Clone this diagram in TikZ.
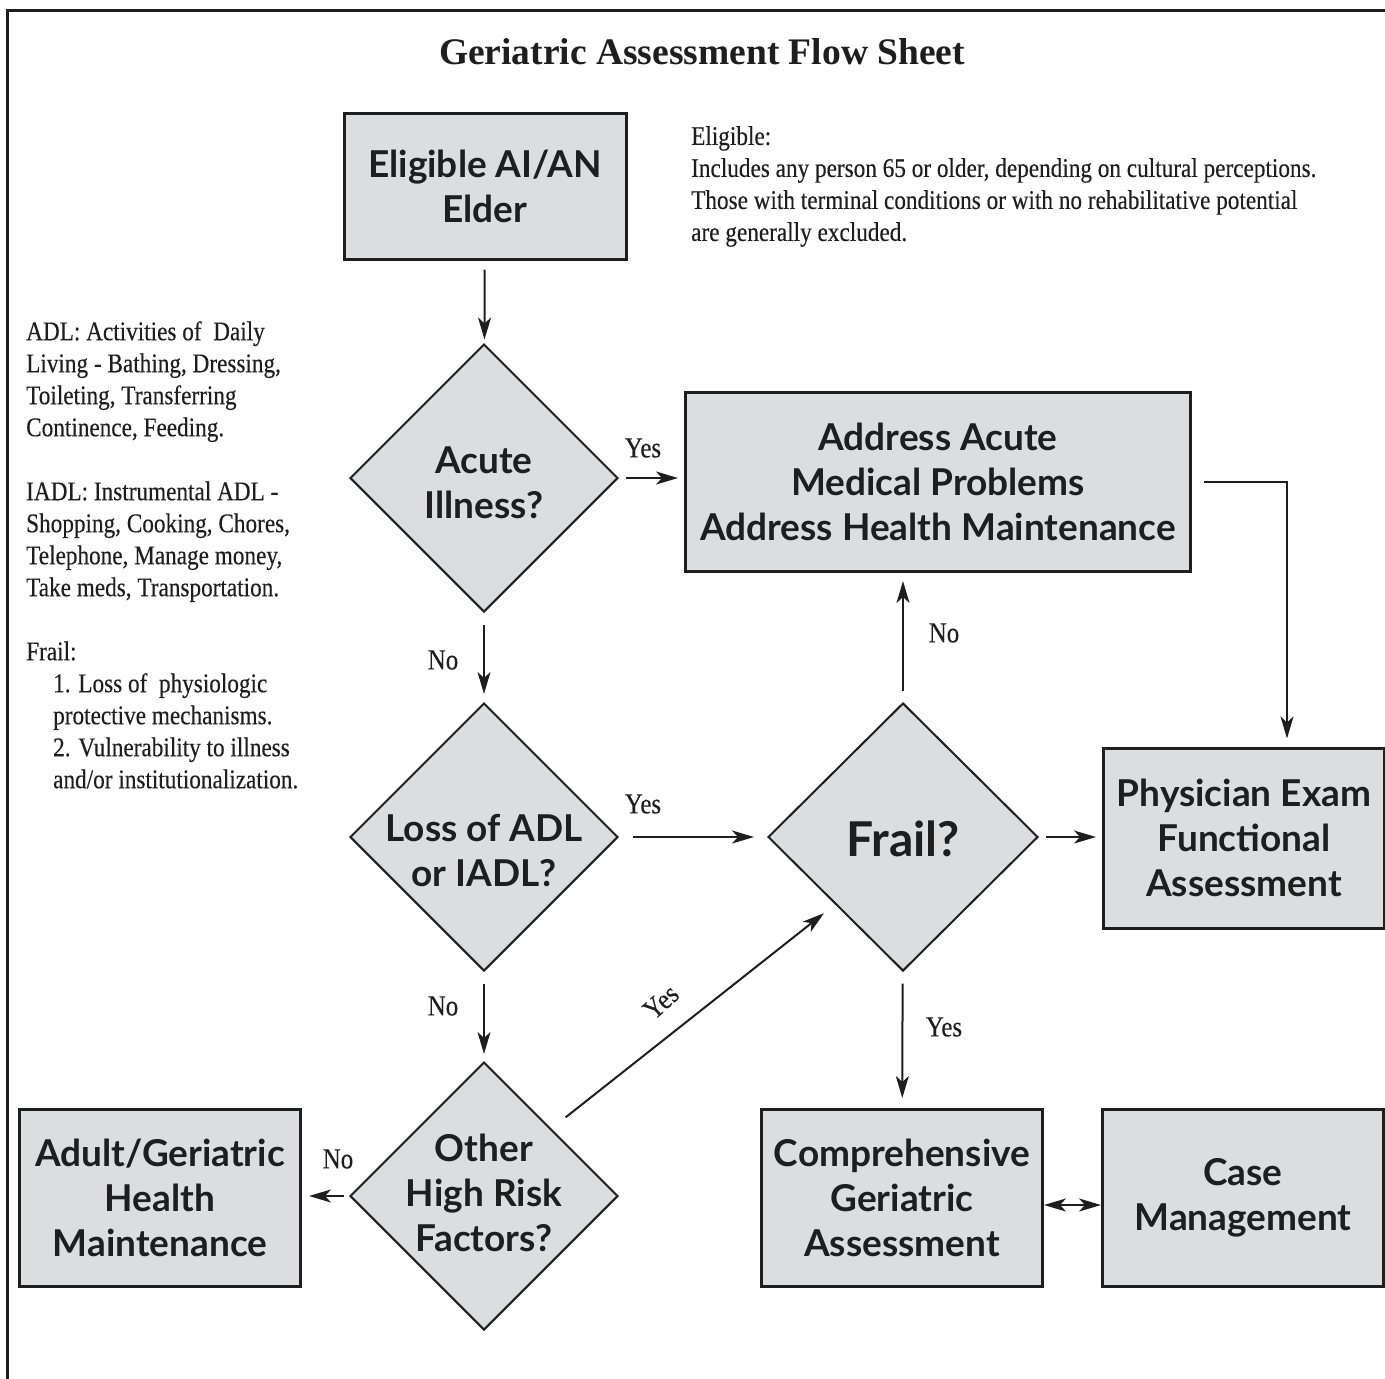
\documentclass[tikz,border=0pt]{standalone}
\usepackage{fontspec}
\usetikzlibrary{shapes.geometric,arrows.meta}
\newfontfamily\notefont[FakeStretch=0.86,FakeBold=0.3]{Liberation Serif}
\newfontfamily\titlefont{Liberation Serif}
\newfontfamily\boxfont{Lato}
\definecolor{boxgray}{HTML}{DCDDDF}
\definecolor{inkdark}{HTML}{1E1E1E}
\newcommand{\dtext}[2][-15pt]{\smash{\makebox[0pt]{\raisebox{#1}{\begin{tabular}{@{}c@{}}#2\end{tabular}}}}}
\tikzset{
  flowtip/.tip={Stealth[length=22pt,width=13pt,inset=6pt]},
  stepbox/.style={draw=inkdark, line width=3pt, fill=boxgray, text=inkdark, inner sep=0pt,
    align=center, font=\boxfont\bfseries\fontsize{37}{45}\selectfont},
  decision/.style={diamond, draw=inkdark, line width=2pt, fill=boxgray, text=inkdark, inner sep=0pt,
    minimum width=268pt, minimum height=268pt, font=\boxfont\bfseries\fontsize{37}{45}\selectfont},
  arrow/.style={draw=inkdark, line width=2pt, -flowtip},
  dblarrow/.style={draw=inkdark, line width=2pt, flowtip-flowtip},
  answer/.style={text=inkdark, font=\notefont\fontsize{29}{32}\selectfont, inner sep=0pt},
  note/.style={text=inkdark, font=\notefont\fontsize{27}{32}\selectfont, inner sep=0pt, align=left, anchor=north west}
}
\begin{document}
\begin{tikzpicture}[x=1pt,y=-1pt]
    \useasboundingbox (0,0) rectangle (1385,1379);
    % Frame
    \draw[inkdark, line width=3pt] (7,1385) -- (7,10) -- (1390,10);

    % Title
    \node[text=inkdark, font=\titlefont\bfseries\fontsize{37.5}{40}\selectfont] (title) at (702,52) {Geriatric Assessment Flow Sheet};

    % Notes
    \node[note] (eligiblenote) at (691,126) {Eligible:\\
        Includes any person 65 or older, depending on cultural perceptions.\\
        Those with terminal conditions or with no rehabilitative potential\\
        are generally excluded.};
    \node[note] (glossary) at (26,321) {ADL: Activities of \ Daily\\
        Living - Bathing, Dressing,\\
        Toileting, Transferring\\
        Continence, Feeding.\\[32pt]
        IADL: Instrumental ADL -\\
        Shopping, Cooking, Chores,\\
        Telephone, Manage money,\\
        Take meds, Transportation.\\[32pt]
        Frail:\\
        \hspace*{27pt}1. Loss of \ physiologic\\
        \hspace*{27pt}protective mechanisms.\\
        \hspace*{27pt}2. Vulnerability to illness\\
        \hspace*{27pt}and/or institutionalization.};

    % Boxes
    \node[stepbox, minimum width=282pt, minimum height=146pt] (eligible) at (485,186) {Eligible AI/AN\\Elder};
    \node[stepbox, minimum width=505pt, minimum height=179pt] (address) at (938,482) {Address Acute\\Medical Problems\\Address Health Maintenance};
    \node[stepbox, minimum width=281pt, minimum height=180pt] (exam) at (1244,838) {Physician Exam\\Functional\\Assessment};
    \node[stepbox, minimum width=281pt, minimum height=177pt] (maint) at (160,1198) {Adult/Geriatric\\Health\\Maintenance};
    \node[stepbox, minimum width=281pt, minimum height=177pt] (cga) at (902,1198) {Comprehensive\\Geriatric\\Assessment};
    \node[stepbox, minimum width=281pt, minimum height=177pt] (casemgmt) at (1243,1198) {Case\\Management};

    % Decisions
    \node[decision] (acute) at (484,478) {\dtext{Acute\\Illness?}};
    \node[decision] (adl) at (484,837) {\dtext[-24pt]{Loss of ADL\\or IADL?}};
    \node[decision, minimum width=270pt] (frail) at (903,837) {\dtext{\fontsize{48}{50}\selectfont Frail?}};
    \node[decision] (risk) at (484,1196) {\dtext[-8pt]{Other\\High Risk\\Factors?}};

    % Connectors
    \draw[arrow, shorten <=9pt, shorten >=4pt] (eligible) -- (acute);
    \draw[arrow, shorten <=7pt, shorten >=6pt] (acute) -- (address.west |- acute);
    \draw[arrow, shorten <=12pt, shorten >=8pt] (acute) -- (adl);
    \draw[arrow, shorten <=14pt, shorten >=13pt] (adl) -- (frail);
    \draw[arrow, shorten <=12pt, shorten >=7pt] (adl) -- (risk);
    \draw[arrow, shorten <=5pt, shorten >=7pt] (risk) -- (maint.east |- risk);
    \draw[arrow, shorten <=18pt, shorten >=14pt] (risk.north east) -- (frail.south west);
    \draw[arrow, shorten <=11pt, shorten >=8pt] (frail) -- (frail |- address.south);
    \draw[arrow, shorten <=7pt, shorten >=6pt] (frail) -- (exam.west |- frail);
    \draw[arrow, shorten <=12pt, shorten >=10pt] (frail) -- (cga);
    \draw[arrow, shorten <=12pt, shorten >=8pt] (address.east) -| ([xshift=43pt]exam.north);
    \draw[dblarrow] ([yshift=-7pt]cga.east) -- ([yshift=-7pt]casemgmt.west);

    % Answers
    \node[answer] (acuteyes) at (643,448) {Yes};
    \node[answer] (acuteno) at (443,660) {No};
    \node[answer] (adlyes) at (643,804) {Yes};
    \node[answer] (adlno) at (443,1006) {No};
    \node[answer] (riskno) at (338,1159) {No};
    \node[answer, rotate=42] (riskyes) at (661,1002) {Yes};
    \node[answer] (frailno) at (944,633) {No};
    \node[answer] (frailyes) at (944,1027) {Yes};
\end{tikzpicture}
\end{document}
